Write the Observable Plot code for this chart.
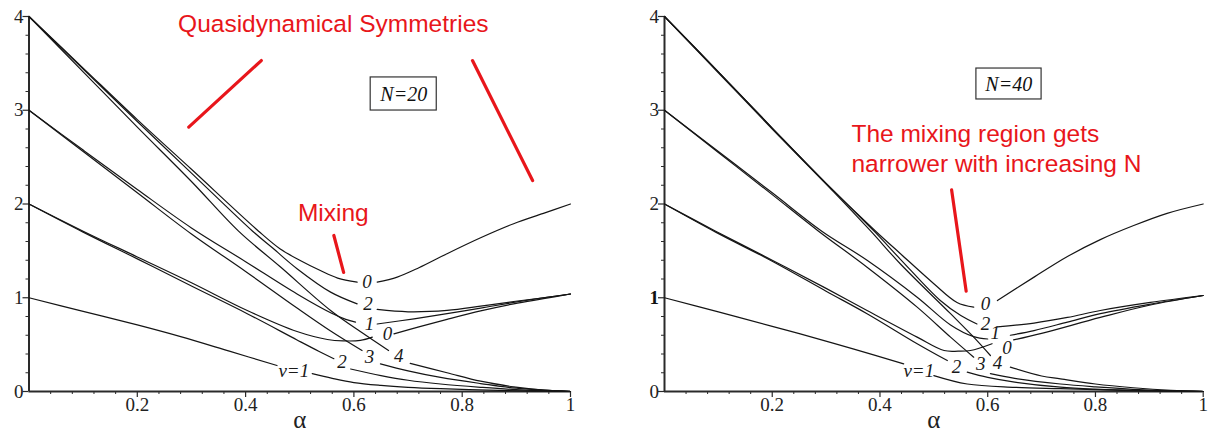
<!DOCTYPE html>
<html><head><meta charset="utf-8">
<script src="https://cdn.jsdelivr.net/npm/d3@7"></script>
<script src="https://cdn.jsdelivr.net/npm/@observablehq/plot@0.6"></script>
<style>
body{margin:0;background:#fff;width:1210px;height:438px;overflow:hidden;position:relative;}
#left{position:absolute;left:0;top:0;}
#right{position:absolute;left:600px;top:0;}
</style></head><body>
<div id="left"></div><div id="right"></div>
<script>
const G = NaN; // gap where a curve label sits

// ---------- N = 20 : [alpha, E] ----------
const n20_v0_upper = [[0,4],[0.1,3.45],[0.2,2.9],[0.3,2.37],[0.424,1.71],[0.464,1.52],[0.5,1.40],[0.538,1.29],[0.57,1.21],[0.606,1.166],[0.62,G],[0.643,1.166],[0.68,1.22],[0.72,1.32],[0.772,1.47],[0.834,1.64],[0.895,1.79],[0.95,1.9],[1,2.0]];
const n20_v2_upper = [[0,4],[0.1,3.44],[0.2,2.88],[0.3,2.33],[0.413,1.71],[0.45,1.53],[0.495,1.31],[0.557,1.06],[0.606,0.935],[0.62,G],[0.643,0.875],[0.7,0.85],[0.772,0.865],[0.834,0.91],[0.895,0.96],[0.95,1.0],[1,1.04]];
const n20_v4 = [[0,4],[0.1,3.41],[0.2,2.82],[0.3,2.24],[0.387,1.71],[0.464,1.33],[0.557,0.864],[0.618,0.615],[0.664,0.437],[0.68,G],[0.704,0.30],[0.772,0.2],[0.834,0.11],[0.895,0.05],[0.95,0.015],[1,0]];
const n20_v1_upper = [[0,3],[0.1,2.575],[0.2,2.155],[0.3,1.745],[0.4,1.385],[0.495,1.04],[0.557,0.84],[0.585,0.77],[0.603,0.74],[0.62,G],[0.643,0.72],[0.711,0.775],[0.772,0.83],[0.834,0.89],[0.895,0.95],[0.95,1.0],[1,1.04]];
const n20_v3 = [[0,3],[0.1,2.56],[0.2,2.12],[0.3,1.68],[0.4,1.28],[0.495,0.89],[0.557,0.645],[0.615,0.437],[0.63,G],[0.649,0.295],[0.7,0.22],[0.76,0.15],[0.834,0.085],[0.9,0.035],[1,0]];
const n20_v0_lower = [[0,2],[0.1,1.71],[0.2,1.435],[0.3,1.16],[0.403,0.864],[0.495,0.64],[0.551,0.555],[0.58,0.54],[0.612,0.545],[0.634,0.58],[0.655,G],[0.674,0.615],[0.72,0.69],[0.772,0.77],[0.834,0.86],[0.895,0.935],[0.95,0.99],[1,1.04]];
const n20_v2_lower = [[0,2],[0.1,1.70],[0.2,1.415],[0.3,1.125],[0.403,0.83],[0.495,0.55],[0.535,0.43],[0.563,0.35],[0.58,G],[0.594,0.24],[0.65,0.17],[0.7,0.12],[0.76,0.08],[0.834,0.045],[0.9,0.02],[1,0]];
const n20_v1 = [[0,1],[0.1,0.855],[0.2,0.71],[0.28,0.585],[0.37,0.43],[0.458,0.277],[0.49,G],[0.523,0.19],[0.56,0.14],[0.6,0.095],[0.65,0.065],[0.7,0.045],[0.76,0.03],[0.85,0.015],[0.93,0.005],[1,0]];
const n20_curves = [n20_v0_upper, n20_v2_upper, n20_v4, n20_v1_upper, n20_v3, n20_v0_lower, n20_v2_lower, n20_v1];
const n20_labelText  = ["0","2","1","0","4","3","2","v=1"];
const n20_labelAlpha = [0.624,0.626,0.629,0.662,0.683,0.629,0.578,0.489];
const n20_labelE     = [1.166,0.935,0.72,0.61,0.384,0.366,0.313,0.224];

// ---------- N = 40 : [alpha, E] ----------
const n40_v0_upper = [[0,4],[0.1,3.41],[0.2,2.81],[0.3,2.22],[0.392,1.71],[0.438,1.47],[0.5,1.15],[0.543,0.95],[0.574,0.9],[0.596,G],[0.618,0.97],[0.686,1.22],[0.748,1.44],[0.809,1.62],[0.871,1.77],[0.933,1.9],[1,2.0]];
const n40_v2_upper = [[0,4],[0.1,3.41],[0.2,2.81],[0.3,2.22],[0.389,1.71],[0.438,1.41],[0.512,0.97],[0.55,0.81],[0.58,0.72],[0.596,G],[0.618,0.69],[0.686,0.73],[0.748,0.79],[0.809,0.864],[0.902,0.95],[1,1.024]];
const n40_v4 = [[0,4],[0.1,3.4],[0.2,2.8],[0.314,2.13],[0.383,1.71],[0.438,1.36],[0.531,0.83],[0.574,0.58],[0.605,0.384],[0.62,G],[0.642,0.26],[0.7,0.165],[0.735,0.135],[0.8,0.08],[0.87,0.04],[0.94,0.012],[1,0]];
const n40_v1_upper = [[0,3],[0.1,2.56],[0.2,2.12],[0.292,1.71],[0.376,1.40],[0.469,1.006],[0.531,0.71],[0.574,0.585],[0.6,0.56],[0.618,G],[0.642,0.6],[0.686,0.65],[0.748,0.74],[0.809,0.83],[0.9,0.93],[1,1.024]];
const n40_v3 = [[0,3],[0.1,2.55],[0.2,2.1],[0.286,1.71],[0.376,1.326],[0.469,0.9],[0.531,0.58],[0.574,0.366],[0.59,G],[0.605,0.19],[0.65,0.14],[0.735,0.08],[0.8,0.05],[0.9,0.015],[1,0]];
const n40_v0_lower = [[0,2],[0.095,1.71],[0.2,1.40],[0.3,1.10],[0.376,0.864],[0.469,0.58],[0.519,0.437],[0.545,0.43],[0.568,0.437],[0.608,0.51],[0.63,G],[0.648,0.55],[0.7,0.62],[0.809,0.79],[0.9,0.92],[1,1.024]];
const n40_v2_lower = [[0,2],[0.095,1.70],[0.2,1.39],[0.3,1.07],[0.376,0.83],[0.469,0.51],[0.525,0.33],[0.545,G],[0.562,0.206],[0.6,0.15],[0.65,0.1],[0.735,0.046],[0.8,0.025],[0.9,0.008],[1,0]];
const n40_v1 = [[0,1],[0.1,0.85],[0.2,0.695],[0.252,0.615],[0.35,0.455],[0.444,0.295],[0.47,G],[0.5,0.17],[0.562,0.08],[0.65,0.045],[0.735,0.03],[0.85,0.012],[1,0]];
const n40_curves = [n40_v0_upper, n40_v2_upper, n40_v4, n40_v1_upper, n40_v3, n40_v0_lower, n40_v2_lower, n40_v1];
const n40_labelText  = ["0","2","1","0","4","3","2","v=1"];
const n40_labelAlpha = [0.596,0.596,0.614,0.636,0.618,0.587,0.542,0.472];
const n40_labelE     = [0.935,0.72,0.625,0.47,0.30,0.295,0.26,0.224];

// ---------- axes ----------
const xTicks = [0.2,0.4,0.6,0.8,1];
const xTickLabels = ["0.2","0.4","0.6","0.8","1"];
const xMinor = [0.04,0.08,0.12,0.16,0.24,0.28,0.32,0.36,0.44,0.48,0.52,0.56,0.64,0.68,0.72,0.76,0.84,0.88,0.92,0.96];
const yTicks = [0,1,2,3,4];
const yTickLabels = ["0","1","2","3","4"];
const yMinor = [0.2,0.4,0.6,0.8,1.2,1.4,1.6,1.8,2.2,2.4,2.6,2.8,3.2,3.4,3.6,3.8];
const xAxisLabel = "α";

// ---------- annotations ----------
const n20_boxText = ["N=20"];
const n20_box = [[0.631,3.35,0.753,2.997]];          // alpha1, E1, alpha2, E2
const n20_boxCenter = [[0.692,3.17]];
const n20_redLines = [[0.295,2.82,0.429,3.53],[0.819,3.53,0.930,2.25],[0.563,1.664,0.581,1.27]];
const n20_redText = ["Quasidynamical Symmetries","Mixing"];
const n20_redTextPos = [[0.562,3.915],[0.562,1.90]];

const n40_boxText = ["N=40"];
const n40_box = [[0.579,3.445,0.700,3.115]];
const n40_boxCenter = [[0.639,3.275]];
const n40_redLines = [[0.533,2.15,0.56,1.07]];
const n40_redText = ["The mixing region gets","narrower with increasing N"];
const n40_redTextPos = [[0.347,2.75],[0.347,2.43]];

const SERIF = "Liberation Serif";
const SANS = "Liberation Sans";
const RED = "#e8161b";

function panel({width, marginLeft, marginRight, curves, lt, la, le, boxText, box, boxCenter, redLines, redText, redTextPos, redAnchor, boldOne}) {
  const axisCol = "#2a2a2a";
  const yPlain = boldOne ? yTicks.filter(d => d !== 1) : yTicks;
  const marks = [
    Plot.ruleY([0], {stroke: axisCol, strokeWidth: 2}),
    Plot.ruleX([0], {y1: 0, y2: 4, stroke: axisCol, strokeWidth: 2}),
    Plot.axisX(xTicks, {tickSize: 6, tickFormat: () => "", stroke: axisCol, strokeWidth: 1.2, label: null}),
    Plot.axisX(xMinor, {tickSize: 3, tickFormat: () => "", stroke: axisCol, strokeWidth: 1, label: null}),
    Plot.axisY(yTicks, {tickSize: 6, tickFormat: () => "", stroke: axisCol, strokeWidth: 1.2, label: null}),
    Plot.axisY(yMinor, {tickSize: 3, tickFormat: () => "", stroke: axisCol, strokeWidth: 1, label: null}),
    Plot.text(xTicks, {x: d => d, frameAnchor: "bottom", dy: 19, text: (d, i) => xTickLabels[i], fontSize: 19, fontFamily: SERIF, fill: "#222"}),
    Plot.text(yPlain, {y: d => d, frameAnchor: "left", dx: -15, text: d => yTickLabels[yTicks.indexOf(d)], fontSize: 19, fontFamily: SERIF, fill: "#222"}),
    Plot.text([xAxisLabel], {frameAnchor: "bottom", dy: 36, text: d => d, fontSize: 25, fontFamily: SERIF, fill: "#222"})
  ];
  if (boldOne) marks.push(Plot.text([1], {y: d => d, frameAnchor: "left", dx: -15, text: d => yTickLabels[yTicks.indexOf(d)], fontSize: 19, fontWeight: "bold", fontFamily: SERIF, fill: "#111"}));
  for (const c of curves) {
    marks.push(Plot.line(c, {x: d => d[0], y: d => d[1], curve: "catmull-rom", stroke: "#151515", strokeWidth: 1.2}));
  }
  marks.push(Plot.text(lt, {x: (d, i) => la[i], y: (d, i) => le[i], text: d => d, fontSize: 19, fontStyle: "italic", fontFamily: SERIF, fill: "#1a1a1a"}));
  marks.push(Plot.rect(box, {x1: d => d[0], y1: d => d[1], x2: d => d[2], y2: d => d[3], fill: "white", stroke: "#333", strokeWidth: 1.2}));
  marks.push(Plot.text(boxText, {x: (d, i) => boxCenter[i][0], y: (d, i) => boxCenter[i][1], text: d => d, fontSize: 20, fontStyle: "italic", fontFamily: SERIF, fill: "#111"}));
  marks.push(Plot.link(redLines, {x1: d => d[0], y1: d => d[1], x2: d => d[2], y2: d => d[3], stroke: RED, strokeWidth: 3.2, strokeLinecap: "round"}));
  marks.push(Plot.text(redText, {x: (d, i) => redTextPos[i][0], y: (d, i) => redTextPos[i][1], text: d => d, fontSize: 24.5, fontFamily: SANS, fill: RED, textAnchor: redAnchor}));
  return Plot.plot({
    width, height: 438,
    marginLeft, marginRight, marginTop: 16, marginBottom: 47,
    x: {domain: [0, 1]},
    y: {domain: [0, 4]},
    style: {background: "transparent", overflow: "visible"},
    marks
  });
}

document.getElementById("left").append(panel({
  width: 600, marginLeft: 28.5, marginRight: 30,
  curves: n20_curves, lt: n20_labelText, la: n20_labelAlpha, le: n20_labelE,
  boxText: n20_boxText, box: n20_box, boxCenter: n20_boxCenter,
  redLines: n20_redLines, redText: n20_redText, redTextPos: n20_redTextPos, redAnchor: "middle", boldOne: false
}));
document.getElementById("right").append(panel({
  width: 610, marginLeft: 64, marginRight: 7.3,
  curves: n40_curves, lt: n40_labelText, la: n40_labelAlpha, le: n40_labelE,
  boxText: n40_boxText, box: n40_box, boxCenter: n40_boxCenter,
  redLines: n40_redLines, redText: n40_redText, redTextPos: n40_redTextPos, redAnchor: "start", boldOne: true
}));
</script>
</body></html>
